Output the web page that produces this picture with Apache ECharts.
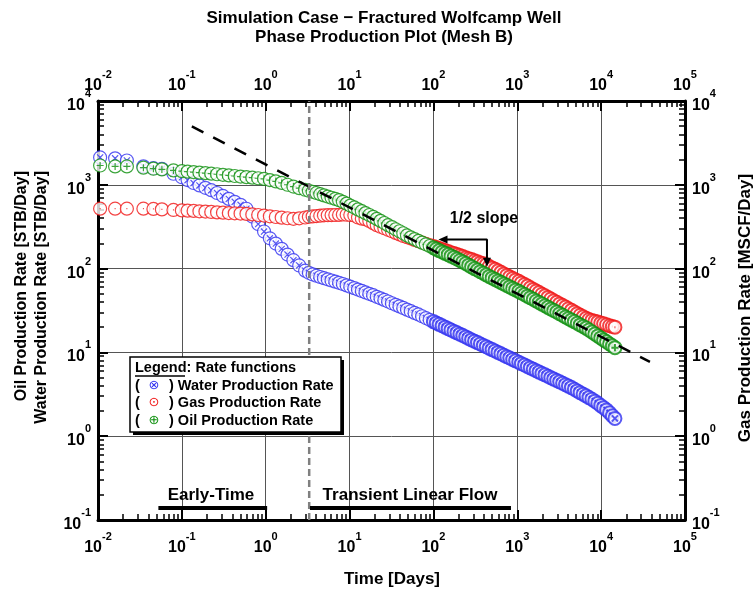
<!DOCTYPE html>
<html><head><meta charset="utf-8">
<script src="https://cdn.jsdelivr.net/npm/echarts@6/dist/echarts.min.js"></script>
<style>html,body{margin:0;padding:0;background:#fff}#c{width:753px;height:594px}</style>
</head><body><div id="c"></div>
<script>
// ---------------- data ----------------
const timeDays = [0.0106,0.016,0.0221,0.0348,0.0458,0.0578,0.0794,0.1,
 0.117,0.138,0.162,0.191,0.224,0.263,0.309,0.363,0.427,0.501,0.589,0.692,0.813,0.955,1.12,1.32,1.55,1.82,2.14,2.51,2.95,
 3.27,3.63,4.03,4.47,4.95,5.50,6.10,6.76,7.50,8.32,9.23,10.2,11.4,12.6,14.0,15.5,17.2,19.1,21.1,23.4,26.0,28.8,32.0,35.5,39.4,43.7,48.4,53.7,59.6,66.1,73.3,81.3,90.2,100,
 108,117,127,138,150,162,176,191,207,224,243,263,285,309,335,363,394,427,462,501,543,589,638,692,750,813,881,955,1040,1120,
 1220,1320,1430,1550,1680,1820,1970,2140,2320,2510,2720,2950,3200,3470,3760,4070,4420,4790,5190,5620,6100,6610,7160,7760,8410,9120,9890,10700,11600,12600,13600,14600];

const waterRate = [2120,2070,1950,1660,1580,1550,1355,1230,
 1140,1050,983,920,863,798,736,679,626,577,518,418,340,277,230,199,172,147,126,109,94.4,
 89.1,85.1,82.2,79.4,76.9,74.5,72.1,69.8,67.6,65.5,63.1,60.8,58.5,56.2,54.1,52.0,50.0,48.2,46.1,44.2,42.3,40.5,38.6,37.0,35.4,33.9,32.4,31.0,29.6,28.4,27.0,25.7,24.5,23.3,
 22.4,21.6,20.8,20.0,19.2,18.5,17.8,17.1,16.5,15.9,15.3,14.7,14.1,13.6,13.1,12.6,12.1,11.7,11.2,10.8,10.4,10.0,9.62,9.25,8.90,8.57,8.24,7.93,7.63,7.34,
 7.06,6.79,6.53,6.29,6.05,5.82,5.60,5.40,5.19,4.99,4.80,4.62,4.45,4.28,4.11,3.96,3.80,3.63,3.47,3.31,3.17,3.03,2.89,2.76,2.62,2.47,2.32,2.19,2.06,1.90,1.75,1.63];

const gasRate = [519,519,519,519,515,509,501,495,
 491,488,483,479,474,469,465,460,457,454,450,443,436,429,421,413,406,399,393,398,407,
 415,420,424,428,432,434,435,436,437,442,439,436,430,407,394,387,370,349,330,316,303,290,279,267,256,245,237,229,220,212,205,198,191,184,
 179,174,169,164,160,155,151,147,143,139,135,131,128,124,121,117,114,111,106,102,98.0,94.0,90.2,86.5,83.0,79.6,76.4,73.3,70.5,67.5,
 64.6,61.8,59.0,56.5,54.1,51.8,49.5,47.3,45.3,43.4,41.4,39.6,37.9,36.3,34.7,33.2,31.8,30.4,29.0,27.8,26.6,25.5,24.7,24.1,23.5,23.0,22.4,21.9,21.4,20.8,20.4,20.0];

const oilRate = [1700,1656,1656,1600,1556,1528,1486,1455,
 1435,1416,1396,1377,1358,1336,1315,1294,1274,1253,1233,1216,1197,1178,1138,1099,1054,1002,953,912,873,
 849,824,798,773,748,724,701,679,656,627,596,565,537,509,484,459,436,414,392,371,350,330,313,295,279,264,249,236,225,214,204,195,186,177,
 171,164,158,152,147,141,136,130,125,120,115,110,105,100,96.1,92.0,88.1,84.2,80.7,77.4,74.3,71.3,68.4,65.6,63.0,60.5,58.0,55.7,53.5,51.2,
 49.0,46.9,44.9,43.0,41.1,39.4,37.7,36.1,34.5,33.0,31.6,30.3,29.0,27.7,26.5,25.4,24.3,23.3,22.3,21.3,20.4,19.5,18.5,17.5,16.6,15.7,14.9,14.1,13.4,12.6,12.0,11.4];

// half-slope reference line (two end points, days / rate)
const halfSlopeT = [0.1315, 38200];
const halfSlopeQ = [4970, 7.7];
// start of transient linear flow (days)
const boundaryT = 3.3;
// regime bars (days) and their level (rate units)
const earlyBarT = [0.0525, 1.04];
const transientBarT = [3.37, 841];
const barLevelQ = 0.139;
// "1/2 slope" arrow (days / rate)
const arrowT = [130, 435];
const arrowQ = [223, 119];

const seriesNames = ['Water Production Rate','Gas Production Rate','Oil Production Rate'];
const titleLines = ['Simulation Case \u2212 Fractured Wolfcamp Well','Phase Production Plot (Mesh B)'];

// ---------------- chart ----------------
const FONT = "'Liberation Sans', Arial, sans-serif";
const C_WATER = '#2f2ff0', C_GAS = '#f01414', C_OIL = '#0b8f0b';
const CIRCLE = 'M10,0C15.523,0 20,4.477 20,10C20,15.523 15.523,20 10,20C4.477,20 0,15.523 0,10C0,4.477 4.477,0 10,0Z';
const SYM_W = 'path://' + CIRCLE + 'M5.3,5.3L14.7,14.7M14.7,5.3L5.3,14.7';
const SYM_G = 'path://' + CIRCLE + 'M9.2,10L10.8,10';
const SYM_O = 'path://' + CIRCLE + 'M10,4.6L10,15.4M4.6,10L15.4,10';

const denseFrom = timeDays.findIndex(t => t >= 100);
function pts(v, lo, hi){ const out=[]; for(let i=lo;i<hi;i++) out.push([timeDays[i], v[i]]); return out; }
function expLabel(v){ const e = Math.round(Math.log10(v)); return '{b|10}{e|' + e + '}'; }
const rich = {
  b:{fontFamily:FONT, fontWeight:'bold', fontSize:16, lineHeight:25, verticalAlign:'bottom', color:'#000'},
  e:{fontFamily:FONT, fontWeight:'bold', fontSize:11, lineHeight:12, verticalAlign:'top', color:'#000'}
};
function logAxis(pos, min, max, split, opts){
  return Object.assign({
    type:'log', logBase:10, min:min, max:max, splitNumber:split, position:pos,
    axisLine:{show:true, onZero:false, lineStyle:{color:'#000', width:3}},
    axisTick:{show:true, inside:true, length:10, lineStyle:{color:'#000', width:2}},
    minorTick:{show:true, splitNumber:9, length:6, lineStyle:{color:'#000', width:1.5}},
    splitLine:{show:false},
    axisLabel:{show:true, formatter:expLabel, rich:rich, margin:(pos==='bottom'?11:7)},
  }, opts||{});
}

const chart = echarts.init(document.getElementById('c'), null, {renderer:'canvas'});
function scat(name, yIdx, vals, sym, color, lo, hi, bw){
  return {type:'scatter', name:name, xAxisIndex:0, yAxisIndex:yIdx, data:pts(vals, lo, hi), symbol:sym,
    symbolSize:13, animation:false, emphasis:{disabled:true}, z:3,
    itemStyle:{color:'#fff', borderColor:color, borderWidth:bw}};
}
const N = timeDays.length;
const option = {
  animation:false,
  backgroundColor:'#fff',
  grid:{left:98, right:68, top:101, bottom:74, show:false},
  xAxis:[
    logAxis('bottom', 0.01, 1e5, 7, {splitLine:{show:true, lineStyle:{color:'#555', width:1}}}),
    logAxis('top', 0.01, 1e5, 7)
  ],
  yAxis:[
    logAxis('left', 0.1, 1e4, 5, {splitLine:{show:true, lineStyle:{color:'#555', width:1}}}),
    logAxis('right', 0.1, 1e4, 5)
  ],
  series:[
    scat(seriesNames[0], 0, waterRate, SYM_W, C_WATER, 0, denseFrom, 1.2),
    scat(seriesNames[0], 0, waterRate, SYM_W, C_WATER, denseFrom, N, 2.0),
    scat(seriesNames[1], 1, gasRate, SYM_G, C_GAS, 0, denseFrom, 1.2),
    scat(seriesNames[1], 1, gasRate, SYM_G, C_GAS, denseFrom, N, 2.0),
    scat(seriesNames[2], 0, oilRate, SYM_O, C_OIL, 0, denseFrom, 1.2),
    scat(seriesNames[2], 0, oilRate, SYM_O, C_OIL, denseFrom, N, 2.0),
    {type:'line', data:[[halfSlopeT[0],halfSlopeQ[0]],[halfSlopeT[1],halfSlopeQ[1]]], symbol:'none', z:5,
      lineStyle:{color:'#000', width:2.5, type:[13,11]}},
    {type:'line', data:[[boundaryT,0.1],[boundaryT,1e4]], symbol:'none', z:5,
      lineStyle:{color:'#808080', width:2.5, type:[7,4]}},
    {type:'line', data:[[earlyBarT[0],barLevelQ],[earlyBarT[1],barLevelQ]], symbol:'none', z:5,
      lineStyle:{color:'#000', width:4}},
    {type:'line', data:[[transientBarT[0],barLevelQ],[transientBarT[1],barLevelQ]], symbol:'none', z:5,
      lineStyle:{color:'#000', width:4}},
    {type:'line', z:6, showSymbol:true, symbol:'none', lineStyle:{color:'#000', width:2},
      itemStyle:{color:'#000'},
      data:[{value:[arrowT[0],arrowQ[0]], symbol:'triangle', symbolRotate:90, symbolSize:[8,9]},
            {value:[arrowT[1],arrowQ[0]], symbol:'none'},
            {value:[arrowT[1],arrowQ[1]], symbol:'triangle', symbolRotate:180, symbolSize:[8,9]}]}
  ],
  graphic:[
    {type:'text', x:384, y:18, style:{text:titleLines[0], font:'bold 17px '+FONT, align:'center', verticalAlign:'middle', fill:'#000'}},
    {type:'text', x:384, y:37, style:{text:titleLines[1], font:'bold 17px '+FONT, align:'center', verticalAlign:'middle', fill:'#000'}},
    {type:'text', x:392, y:579, style:{text:'Time [Days]', font:'bold 17px '+FONT, align:'center', verticalAlign:'middle', fill:'#000'}},
    {type:'text', x:22, y:171, rotation:Math.PI/2, style:{text:'Oil Production Rate [STB/Day]', font:'bold 16px '+FONT, align:'right', verticalAlign:'middle', fill:'#000'}},
    {type:'text', x:42, y:171, rotation:Math.PI/2, style:{text:'Water Production Rate [STB/Day]', font:'bold 16px '+FONT, align:'right', verticalAlign:'middle', fill:'#000'}},
    {type:'text', x:745, y:308, rotation:Math.PI/2, style:{text:'Gas Production Rate [MSCF/Day]', font:'bold 17px '+FONT, align:'center', verticalAlign:'middle', fill:'#000'}},
    {type:'text', x:484, y:219, z:20, style:{text:'1/2 slope', font:'bold 16px '+FONT, align:'center', verticalAlign:'middle', fill:'#000'}},
    {type:'text', x:211, y:495, z:20, style:{text:'Early-Time', font:'bold 17px '+FONT, align:'center', verticalAlign:'middle', fill:'#000'}},
    {type:'text', x:410, y:495, z:20, style:{text:'Transient Linear Flow', font:'bold 17px '+FONT, align:'center', verticalAlign:'middle', fill:'#000'}},
    // legend box
    {type:'rect', z:30, shape:{x:133, y:360, width:211, height:75}, style:{fill:'#000'}},
    {type:'rect', z:31, shape:{x:130, y:357, width:211, height:75}, style:{fill:'#fff', stroke:'#000', lineWidth:1.5}},
    {type:'text', z:32, x:135, y:368, style:{text:'Legend: Rate functions', font:'bold 14.5px '+FONT, align:'left', verticalAlign:'middle', fill:'#000'}},
    {type:'line', z:32, shape:{x1:135, y1:376, x2:185, y2:376}, style:{stroke:'#000', lineWidth:1.3}},
    {type:'text', z:32, x:135, y:386, style:{text:'(', font:'bold 14.5px '+FONT, align:'left', verticalAlign:'middle', fill:'#000'}},
    {type:'text', z:32, x:135, y:403, style:{text:'(', font:'bold 14.5px '+FONT, align:'left', verticalAlign:'middle', fill:'#000'}},
    {type:'text', z:32, x:135, y:421, style:{text:'(', font:'bold 14.5px '+FONT, align:'left', verticalAlign:'middle', fill:'#000'}},
    {type:'text', z:32, x:154, y:386, style:{text:'\u2297', font:'13px DejaVu Sans', align:'center', verticalAlign:'middle', fill:C_WATER}},
    {type:'text', z:32, x:154, y:403, style:{text:'\u2299', font:'13px DejaVu Sans', align:'center', verticalAlign:'middle', fill:C_GAS}},
    {type:'text', z:32, x:154, y:421, style:{text:'\u2295', font:'13px DejaVu Sans', align:'center', verticalAlign:'middle', fill:C_OIL}},
    {type:'text', z:32, x:169, y:386, style:{text:') ' + seriesNames[0], font:'bold 14.5px '+FONT, align:'left', verticalAlign:'middle', fill:'#000'}},
    {type:'text', z:32, x:169, y:403, style:{text:') ' + seriesNames[1], font:'bold 14.5px '+FONT, align:'left', verticalAlign:'middle', fill:'#000'}},
    {type:'text', z:32, x:169, y:421, style:{text:') ' + seriesNames[2], font:'bold 14.5px '+FONT, align:'left', verticalAlign:'middle', fill:'#000'}}
  ]
};
chart.setOption(option);
</script>
</body></html>
